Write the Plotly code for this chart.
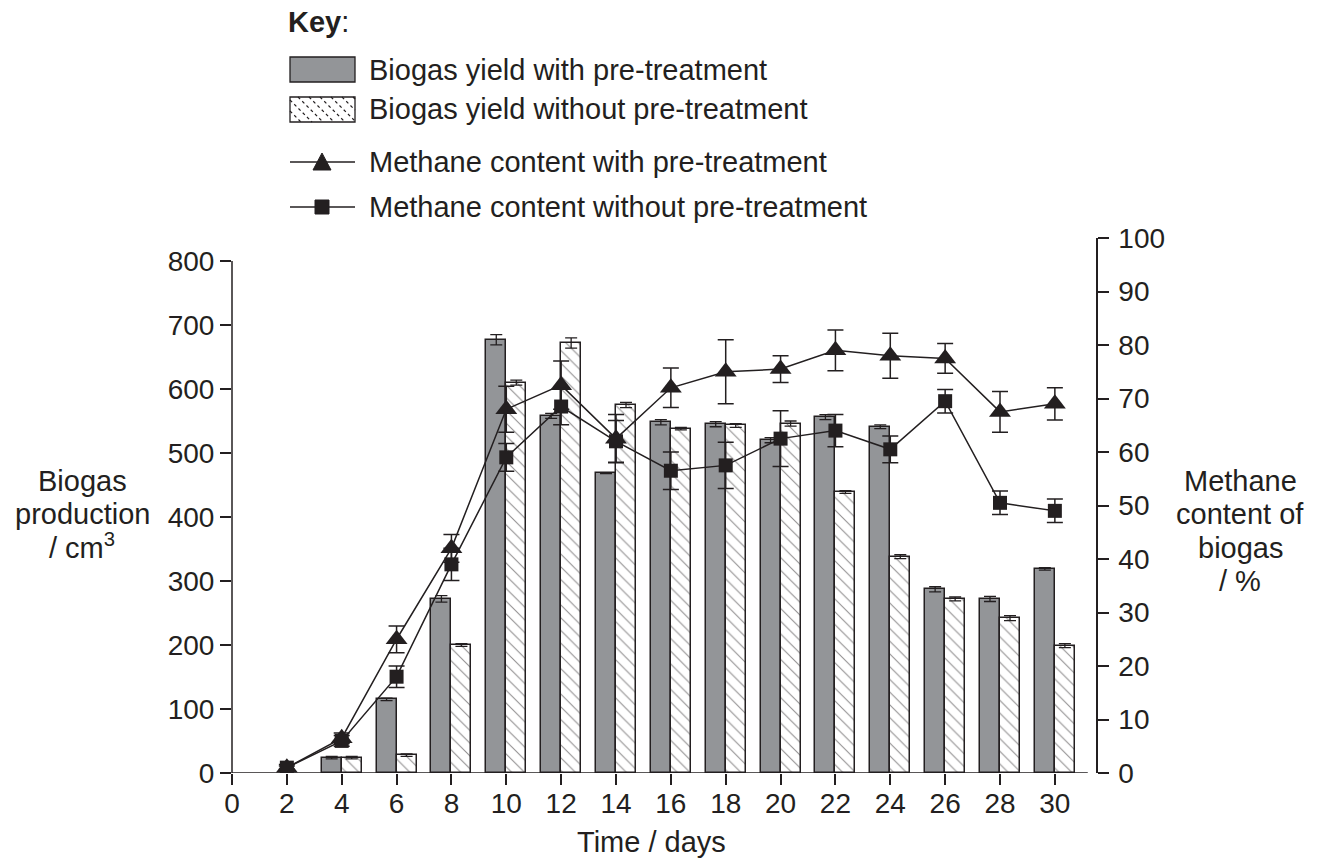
import plotly.graph_objects as go

# ---------------- data ----------------
days = [2, 4, 6, 8, 10, 12, 14, 16, 18, 20, 22, 24, 26, 28, 30]
biogas_with = [None, 24, 115, 272, 677, 558, 468, 548, 545, 520, 556, 541, 287, 272, 319]
biogas_with_err = [0, 2, 2, 5, 8, 4, 0, 4, 4, 4, 4, 3, 4, 4, 2]
biogas_without = [None, 24, 28, 200, 610, 672, 575, 538, 543, 546, 439, 338, 272, 242, 199]
biogas_without_err = [0, 2, 2, 2, 4, 8, 4, 2, 3, 4, 2, 3, 3, 4, 3]
methane_with = [1, 6.5, 25, 42, 68, 72.5, 62.5, 72, 75, 75.5, 79, 78, 77.5, 67.5, 69]
methane_with_err = [0.6, 1, 2.5, 2.6, 4.3, 4.5, 4.5, 3.7, 6, 2.5, 3.8, 4.2, 2.8, 3.8, 3]
methane_without = [1, 6, 18, 39, 59, 68.5, 62, 56.5, 57.5, 62.5, 64, 60.5, 69.5, 50.5, 49]
methane_without_err = [0.3, 1, 2, 3, 2.6, 3.4, 3.9, 3.5, 4.3, 5.2, 3, 2.5, 2.2, 2.2, 2.2]

x_ticks = list(range(0, 31, 2))
y_ticks = list(range(0, 801, 100))
y2_ticks = list(range(0, 101, 10))

legend_labels = [
    "Biogas yield with pre-treatment",
    "Biogas yield without pre-treatment",
    "Methane content with pre-treatment",
    "Methane content without pre-treatment",
]

# ---------------- style ----------------
INK = "#231f20"
GREY = "#939598"
FONT = "Liberation Sans, Arial, sans-serif"
FS = 29
FS_TICK = 28
W, H = 1317, 860
L, R, T, B = 232, 1096, 238, 773
BAR_W = 0.73


def px(xp):
    return (xp - L) / (R - L)


def py(yp):
    return (B - yp) / (B - T)


fig = go.Figure()

fig.add_trace(go.Bar(
    x=days, y=biogas_with, width=BAR_W, offset=-BAR_W,
    marker=dict(color=GREY, line=dict(color=INK, width=1.5)),
    error_y=dict(type="data", array=biogas_with_err, color=INK, thickness=1.3, width=6),
    name=legend_labels[0], showlegend=False,
))
fig.add_trace(go.Bar(
    x=days, y=biogas_without, width=BAR_W, offset=0,
    marker=dict(color="white", line=dict(color=INK, width=1.5),
                pattern=dict(shape="\\", size=9, solidity=0.12, fgcolor=INK, bgcolor="white")),
    error_y=dict(type="data", array=biogas_without_err, color=INK, thickness=1.3, width=6),
    name=legend_labels[1], showlegend=False,
))
fig.add_trace(go.Scatter(
    x=days, y=methane_with, yaxis="y2", mode="lines+markers",
    line=dict(color=INK, width=1.5),
    marker=dict(symbol="triangle-up", size=19, color=INK),
    error_y=dict(type="data", array=methane_with_err, color=INK, thickness=1.5, width=8),
    name=legend_labels[2], showlegend=False,
))
fig.add_trace(go.Scatter(
    x=days, y=methane_without, yaxis="y2", mode="lines+markers",
    line=dict(color=INK, width=1.5),
    marker=dict(symbol="square", size=14, color=INK),
    error_y=dict(type="data", array=methane_without_err, color=INK, thickness=1.5, width=8),
    name=legend_labels[3], showlegend=False,
))

shapes = []
# left axis line (0-800 only) and x axis line
shapes.append(dict(type="line", xref="paper", yref="y", x0=0, x1=0, y0=0, y1=800,
                   line=dict(color=INK, width=1.5)))
shapes.append(dict(type="line", xref="x", yref="y", x0=0, x1=31.2, y0=0, y1=0,
                   line=dict(color=INK, width=1.5)))

# legend (key) drawn manually
def rect(x0, y0, x1, y1, fill):
    return dict(type="rect", xref="paper", yref="paper", x0=px(x0), x1=px(x1),
                y0=py(y1), y1=py(y0), fillcolor=fill, line=dict(color=INK, width=1.3))

shapes.append(rect(290, 57, 355, 82, GREY))
shapes.append(rect(290, 97, 355, 122, "white"))
top, bot = 97, 122
hgt = bot - top
x0 = 290 - hgt
while x0 < 355:
    t0 = max(0, 290 - x0)
    t1 = min(hgt, 355 - x0)
    if t1 > t0 + 1:
        shapes.append(dict(type="line", xref="paper", yref="paper",
                           x0=px(x0 + t0), y0=py(top + t0), x1=px(x0 + t1), y1=py(top + t1),
                           line=dict(color=INK, width=1.2, dash="dot")))
    x0 += 11

for yy in (162, 207):
    shapes.append(dict(type="line", xref="paper", yref="paper", x0=px(290), x1=px(355),
                       y0=py(yy), y1=py(yy), line=dict(color=INK, width=1.3)))
# triangle
shapes.append(dict(type="path", xref="paper", yref="paper",
                   path=f"M {px(313)} {py(170)} L {px(331)} {py(170)} L {px(322)} {py(153)} Z",
                   fillcolor=INK, line=dict(color=INK, width=1)))
# square
shapes.append(dict(type="rect", xref="paper", yref="paper", x0=px(315), x1=px(329),
                   y0=py(214), y1=py(200), fillcolor=INK, line=dict(color=INK, width=1)))

annotations = []
def txt(text, xp, yp, xanchor="left", size=FS):
    annotations.append(dict(text=text, xref="paper", yref="paper", x=px(xp), y=py(yp),
                            xanchor=xanchor, yanchor="middle", showarrow=False,
                            font=dict(family=FONT, size=size, color=INK)))

txt("<b>Key</b>:", 286, 22)
for lab, yy in zip(legend_labels, (70, 109, 162, 207)):
    txt(lab, 367, yy)

# axis titles
for line, yy in zip(["Biogas", "production", "/ cm<sup>3</sup>"], (481, 514, 546)):
    txt(line, 82, yy, xanchor="center")
for line, yy in zip(["Methane", "content of", "biogas", "/ %"], (481, 514, 548, 581)):
    txt(line, 1240, yy, xanchor="center")
txt("Time / days", 651, 842, xanchor="center")

axis_common = dict(showgrid=False, zeroline=False, ticks="outside", ticklen=11, tickwidth=1.5,
                   tickcolor=INK, tickfont=dict(family=FONT, size=FS_TICK, color=INK))

fig.update_layout(
    width=W, height=H, autosize=False,
    margin=dict(l=L, r=W - R, t=T, b=H - B, pad=0),
    plot_bgcolor="white", paper_bgcolor="white",
    showlegend=False, bargap=0,
    xaxis=dict(range=[0, 31.5], tickvals=x_ticks, showline=False, ticklabelstandoff=-6,
               **axis_common),
    yaxis=dict(range=[0, (B - T) / 0.64], tickvals=y_ticks, showline=False, **axis_common),
    yaxis2=dict(range=[0, 100], tickvals=y2_ticks, overlaying="y", side="right",
                showline=True, linecolor=INK, linewidth=1.5, ticklabelstandoff=4,
                **axis_common),
    shapes=shapes, annotations=annotations,
)

fig.write_html("out.html", config={"displayModeBar": False},
               post_script="document.body.style.margin='0px';document.body.style.overflow='hidden';")
